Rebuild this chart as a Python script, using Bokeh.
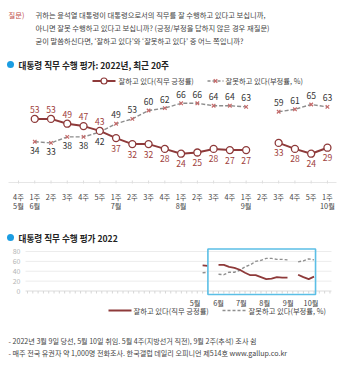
import numpy as np
import pandas as pd
from bokeh.plotting import figure
from bokeh.models import Range1d, ColumnDataSource
from bokeh.core.properties import value
from bokeh.embed import file_html
from bokeh.resources import INLINE

FONT = "Noto Sans CJK KR"
nan = float("nan")

# ---- 최근 20주 (2022년 5월 4주 ~ 10월 1주), 5월 4주·9월 2주는 조사 쉼 ----
week_labels = ["4주", "1주", "2주", "3주", "4주", "5주", "1주", "2주", "3주", "4주",
               "1주", "2주", "3주", "4주", "1주", "2주", "3주", "4주", "5주", "1주"]
month_labels = {0: "5월", 1: "6월", 6: "7월", 10: "8월", 14: "9월", 19: "10월"}
positive = [nan, 53, 53, 49, 47, 43, 37, 32, 32, 28, 24, 25, 28, 27, 27, nan, 33, 28, 24, 29]
negative = [nan, 34, 33, 38, 38, 42, 49, 53, 60, 62, 66, 66, 64, 64, 63, nan, 59, 61, 65, 63]

# ---- 2022 전체 추이: 5월 2주(첫 조사)부터 ----
early_positive = [52, 51]
early_negative = [37, 38]
first_survey = "2022-05-11"
bottom_months = ["2022-05-01", "2022-06-01", "2022-07-01", "2022-08-01", "2022-09-01", "2022-10-01"]
bottom_month_text = ["5월", "6월", "7월", "8월", "9월", "10월"]
bottom_yticks = [0, 20, 40, 60, 80]

RED = "#8e3a3a"
RED_TXT = "#a0413c"
GREY = "#8c8c8c"
XCOL = "#c46a6a"
TXT = "#444444"
BLUE = "#1b9de2"
BOX = "#5bbfe6"

W, H = 340, 380
# canvas in pixel units (y downward); charts use their own ranges
p = figure(width=W, height=H, x_range=Range1d(0, W), y_range=Range1d(H, 0),
           x_axis_type=None, y_axis_type=None, toolbar_location=None,
           output_backend="svg", min_border=0, outline_line_color=None)
p.background_fill_color = "white"
p.border_fill_color = "white"

# top chart scale: week i at 18 + 16.26*i px, value v at 182 - 1.2*v px
TX0, TDX, TY0, TDY = 18.0, 16.26, 182.0, 1.2
# bottom chart scale: date axis, value v at 290.5 - 0.494*v px
B_REF = pd.Timestamp(first_survey)
BX0, BDX_DAY, BY0, BDY = 202.1, 5.306 / 7.0, 290.5, 0.494
ms_day = 86400000.0
b_ref_ms = B_REF.value / 1e6
p.extra_x_ranges = {
    "tx": Range1d(-TX0 / TDX, (W - TX0) / TDX),
    "bx": Range1d(b_ref_ms - BX0 / BDX_DAY * ms_day, b_ref_ms + (W - BX0) / BDX_DAY * ms_day),
}
p.extra_y_ranges = {
    "ty": Range1d(-(H - TY0) / TDY, TY0 / TDY),
    "by": Range1d(-(H - BY0) / BDY, BY0 / BDY),
}


def txt(x, y, s, size="7.3px", color=TXT, align="left", bold=False, **kw):
    p.text(x=[x], y=[y], text=[s], text_font=value(FONT), text_font_size=size,
           text_color=color, text_align=align, text_baseline="middle",
           text_font_style="bold" if bold else "normal", **kw)


# ---- question ----
txt(8, 14, "질문)", color="#c0504d")
txt(35, 14, "귀하는 윤석열 대통령이 대통령으로서의 직무를 잘 수행하고 있다고 보십니까,")
txt(35, 27, "아니면 잘못 수행하고 있다고 보십니까? (긍정/부정을 답하지 않은 경우 재질문)")
txt(35, 40, "굳이 말씀하신다면, ‘잘하고 있다’와 ‘잘못하고 있다’ 중 어느 쪽입니까?")

# ---- top chart ----
p.scatter([10], [64], marker="circle", size=7, fill_color=BLUE, line_color=None)
txt(18, 64, "대통령 직무 수행 평가: 2022년, 최근 20주", size="8.6px", color="#222222", bold=True)

# legend
p.line([92, 115], [80.5, 80.5], line_color=RED, line_width=2)
p.scatter([103.5], [80.5], marker="circle", size=6, fill_color="white", line_color=RED, line_width=1.2)
txt(118, 80.5, "잘하고 있다(직무 긍정률)")
p.line([207, 223], [80.5, 80.5], line_color=GREY, line_width=1.3, line_dash="3 2")
p.scatter([215], [80.5], marker="x", size=5, line_color=XCOL, line_width=1.2)
txt(225, 80.5, "잘못하고 있다(부정률, %)")

idx = np.arange(len(week_labels))
pos = np.array(positive, float)
neg = np.array(negative, float)

# baseline with weekly ticks
p.line([8, 336], [182, 182], line_color="#e6e6e6", line_width=1)
p.segment(x0=idx, y0=[180] * len(idx), x1=idx, y1=[183] * len(idx),
          x_range_name="tx", line_color="#dddddd", line_width=1)

p.line(idx, neg, x_range_name="tx", y_range_name="ty", line_color=GREY,
       line_width=1.4, line_dash="4 2")
p.scatter(idx, neg, x_range_name="tx", y_range_name="ty", marker="x", size=5,
          line_color=XCOL, line_width=1.2)
p.line(idx, pos, x_range_name="tx", y_range_name="ty", line_color=RED, line_width=2)
p.scatter(idx, pos, x_range_name="tx", y_range_name="ty", marker="circle", size=7,
          fill_color="white", line_color=RED, line_width=1.3)

ok = ~np.isnan(pos)
red_up = pos[ok] >= neg[ok]
pos_src = ColumnDataSource(dict(
    x=idx[ok], y=pos[ok], t=[str(int(v)) for v in pos[ok]],
    dy=[-9.5 if u else 10 for u in red_up]))
neg_src = ColumnDataSource(dict(
    x=idx[ok], y=neg[ok], t=[str(int(v)) for v in neg[ok]],
    dy=[9 if u else -9 for u in red_up]))
for src, col in ((pos_src, RED_TXT), (neg_src, "#333333")):
    p.text(x="x", y="y", text="t", y_offset="dy", source=src, x_range_name="tx",
           y_range_name="ty", text_font=value(FONT), text_font_size="8.6px",
           text_color=col, text_align="center", text_baseline="middle")

# x tick labels
for i, lab in enumerate(week_labels):
    txt(i, 196, lab, size="7.3px", align="center", x_range_name="tx")
for i, lab in month_labels.items():
    txt(i, 205.5, lab, size="7.3px", align="center", x_range_name="tx")

# ---- bottom chart ----
p.scatter([10], [237], marker="circle", size=7, fill_color=BLUE, line_color=None)
txt(18, 237, "대통령 직무 수행 평가 2022", size="8.6px", color="#222222", bold=True)

for v in bottom_yticks:
    p.line([25, 331], [v, v], y_range_name="by",
           line_color="#dcdcdc" if v == 0 else "#ececec", line_width=1)
    txt(20, v, str(v), size="7px", color="#b5b5b5", align="right", y_range_name="by")

b_week_ticks = pd.date_range(B_REF - pd.Timedelta(days=7 * 33), periods=58, freq="7D")
p.segment(x0=b_week_ticks, y0=[290.5] * len(b_week_ticks), x1=b_week_ticks,
          y1=[293] * len(b_week_ticks), x_range_name="bx", line_color="#d6d6d6", line_width=1)

b_dates = pd.date_range(B_REF, periods=len(early_positive) + len(positive), freq="7D")
b_pos = np.array(early_positive + positive, float)
b_neg = np.array(early_negative + negative, float)
p.line(b_dates, b_neg, x_range_name="bx", y_range_name="by", line_color="#8f8f8f",
       line_width=1.4, line_dash="3 2")
p.line(b_dates, b_pos, x_range_name="bx", y_range_name="by", line_color=RED, line_width=1.8)

# highlighted window: the 20 weeks shown above
p.quad(left=[b_dates[1]], right=[b_dates[-1] + pd.Timedelta(days=2)], bottom=[-7], top=[85],
       x_range_name="bx", y_range_name="by", fill_color=None, line_color=BOX, line_width=1.6)

for d, lab in zip(pd.to_datetime(bottom_months), bottom_month_text):
    txt(d, 302, lab, size="7.3px", align="center", x_range_name="bx")

# bottom legend
p.line([108, 131], [310, 310], line_color=RED, line_width=1.8)
txt(133, 310, "잘하고 있다(직무 긍정률)")
p.line([222, 245], [310, 310], line_color="#8f8f8f", line_width=1.3, line_dash="3 2")
txt(248, 310, "잘못하고 있다(부정률, %)")

# footnotes
txt(8, 340, "- 2022년 3월 9일 당선, 5월 10일 취임. 5월 4주(지방선거 직전), 9월 2주(추석) 조사 쉼", size="7.1px")
txt(8, 352, "- 매주 전국 유권자 약 1,000명 전화조사. 한국갤럽 데일리 오피니언 제514호 www.gallup.co.kr", size="7.1px")

open("out.html", "w").write(file_html(p, INLINE))
